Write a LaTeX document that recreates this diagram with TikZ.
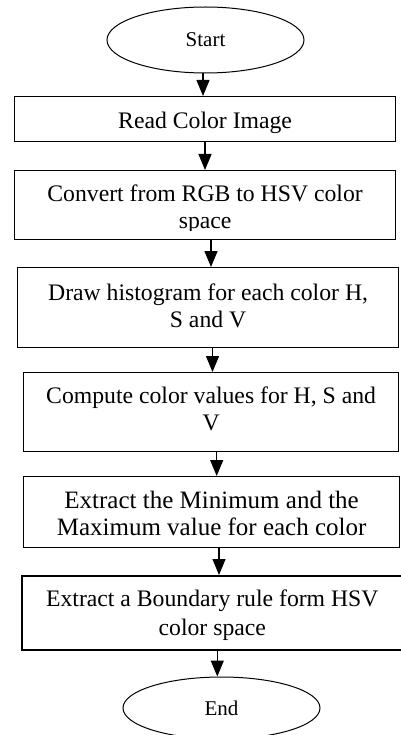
\documentclass[tikz,border=0pt]{standalone}
\usepackage{fontspec}
\setmainfont{Liberation Serif}
\usetikzlibrary{arrows.meta,shapes.geometric}

% centred lines whose baseline is that of the first line
\newcommand\flowlines[1]{\begin{tabular}[t]{@{}c@{}}#1\end{tabular}}

\tikzset{
  stepbox/.style={draw, rectangle, line width=1.2pt, inner sep=0pt,
    anchor=north west, font=\fontsize{23.7}{27}\selectfont},
  term/.style={draw, ellipse, line width=1pt, inner sep=0pt,
    minimum width=197pt, font=\fontsize{21}{24}\selectfont},
  flow/.style={line width=1.3pt, -{Triangle[width=13pt,length=16pt]}},
}

\begin{document}
\begin{tikzpicture}[x=1pt,y=-1pt]
\useasboundingbox (0,0) rectangle (400,735);

% terminals
\node[term, minimum height=66pt] (st) at (205.5,40) {Start};
\node[term, minimum height=62pt] (en) at (221.5,708) {End};

% process steps
\node[stepbox, minimum width=381pt, minimum height=45pt,
      text height=32pt, text depth=13pt] (b1) at (14,96)
  {\flowlines{Read Color Image}};

\node[stepbox, minimum width=381pt, minimum height=69pt] (b2) at (14,170) {};
\begin{scope}
  \clip (b2.north west) rectangle ([yshift=10pt]b2.south east);
  \node[stepbox, draw=none, minimum width=381pt, minimum height=69pt,
        text height=31pt, text depth=38pt] (b2t) at (14,170)
    {\flowlines{Convert from RGB to HSV color\\space}};
\end{scope}

\node[stepbox, minimum width=381pt, minimum height=80pt,
      text height=33pt, text depth=47pt] (b3) at (17,267)
  {\flowlines{Draw histogram for each color H,\\S and V}};

\node[stepbox, minimum width=375pt, minimum height=79pt,
      text height=31pt, text depth=48pt] (b4) at (23,372)
  {\flowlines{Compute color values for H, S and\\V}};

\node[stepbox, minimum width=376pt, minimum height=71pt,
      text height=32pt, text depth=39pt, font=\fontsize{25}{27}\selectfont] (b5) at (23,476)
  {\flowlines{Extract the Minimum and the\\Maximum value for each color}};

\node[stepbox, line width=1.6pt, minimum width=381pt, minimum height=74pt,
      text height=31pt, text depth=43pt, font=\fontsize{23.7}{28.5}\selectfont] (b6) at (21,575)
  {\flowlines{Extract a Boundary rule form HSV\\color space}};

% arrow columns
\coordinate (a1) at (203,0);
\coordinate (a2) at (205,0);
\coordinate (a3) at (211,0);
\coordinate (a4) at (212.5,0);
\coordinate (a5) at (216.7,0);
\coordinate (a6) at (219,0);
\coordinate (a7) at (217.3,0);

\draw[flow] (a1 |- st.south) -- (a1 |- b1.north);
\draw[flow] (a2 |- b1.south) -- (a2 |- b2.north);
\draw[flow] (a3 |- b2.south) -- (a3 |- b3.north);
\draw[flow] (a4 |- b3.south) -- (a4 |- b4.north);
\draw[flow] (a5 |- b4.south) -- (a5 |- b5.north);
\draw[flow] (a6 |- b5.south) -- (a6 |- b6.north);
\draw[flow] (a7 |- b6.south) -- (a7 |- en.north);
\end{tikzpicture}
\end{document}
